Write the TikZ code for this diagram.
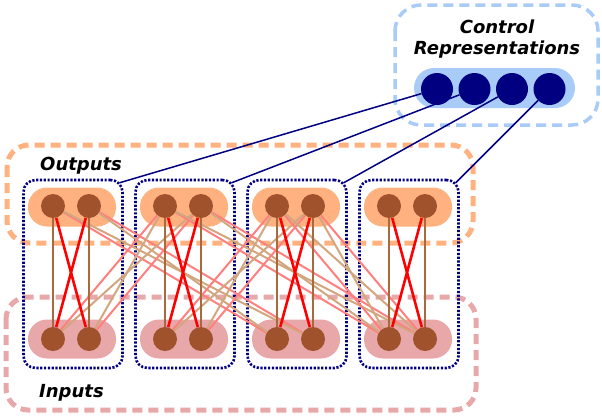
\documentclass[tikz,border=0pt]{standalone}
\usepackage{fontspec}
\newfontfamily\labelfont{DejaVu Sans}
\definecolor{CNavy}{HTML}{000080}
\definecolor{CBrown}{HTML}{A0522D}
\definecolor{CStem}{HTML}{A8693C}
\definecolor{CRed}{HTML}{FF0000}
\definecolor{CPink}{HTML}{FF7F7F}
\definecolor{CTan}{HTML}{D2A67E}
\definecolor{COrange}{HTML}{FFB27F}
\definecolor{CRose}{HTML}{E8A8AA}
\definecolor{CSky}{HTML}{A8CBF8}

\begin{document}
\begin{tikzpicture}[x=1pt, y=-1pt,
  unit/.style={circle, fill=CBrown, minimum size=24pt, inner sep=0pt},
  ctrl/.style={circle, fill=CNavy, minimum size=32pt, inner sep=0pt},
  pill/.style={rounded corners=19pt, minimum width=88pt, minimum height=39pt, inner sep=0pt},
  group/.style={draw=CNavy, line width=2.6pt, dash pattern=on 2.2pt off 1.6pt,
                rounded corners=12pt, minimum width=99pt, minimum height=188pt, inner sep=0pt},
  region/.style={line width=5pt, dash pattern=on 10pt off 6pt, rounded corners=22pt},
  title/.style={font=\labelfont\bfseries\itshape\fontsize{18}{22}\selectfont, inner sep=0pt},
  stem/.style={CStem, line width=2.6pt},
  cross/.style={CRed, line width=2.6pt},
  pinklink/.style={CPink, line width=2pt},
  tanlink/.style={CTan, line width=2pt},
  wire/.style={CNavy, line width=1.5pt}]
  \useasboundingbox (0,0) rectangle (602,418);

  % dashed regions
  \draw[region, COrange] (7,145) rectangle (473,243);
  \draw[region, CRose] (6,297) rectangle (476,410);
  \draw[region, CSky, line width=3.5pt, rounded corners=26pt] (395,5) rectangle (598,125);

  % groups of units
  \foreach \g/\x in {1/71, 2/183, 3/295, 4/407} {
     \node[pill, fill=COrange] (op\g) at (\x+1, 207) {};
     \node[pill, fill=CRose] (ip\g) at (\x+1, 339) {};
     \node[group] (g\g) at (\x+2, 274) {};
     \node[unit] (o\g-a) at (\x-18, 206) {};
     \node[unit] (o\g-b) at (\x+18, 206) {};
     \node[unit] (i\g-a) at (\x-18, 339) {};
     \node[unit] (i\g-b) at (\x+18, 339) {};
  }

  % links between groups
  \foreach \s/\t in {1/3, 2/1, 2/4, 3/2, 3/4} {
     \draw[pinklink] (o\s-a) -- (i\t-a);
     \draw[pinklink] (o\s-b) -- (i\t-b);
     \draw[tanlink] (o\s-a) -- (i\t-b);
     \draw[tanlink] (o\s-b) -- (i\t-a);
  }
  % links inside a group
  \foreach \g in {1,...,4} {
     \draw[stem] (o\g-a) -- (i\g-a);
     \draw[stem] (o\g-b) -- (i\g-b);
     \draw[cross] (o\g-a) -- (i\g-b);
     \draw[cross] (o\g-b) -- (i\g-a);
  }

  % control representations
  \node[pill, fill=CSky, minimum width=161pt, minimum height=40pt, rounded corners=20pt] (cp) at (494.5, 88) {};
  \foreach \k/\x in {1/437, 2/474.5, 3/512, 4/549.5} {
     \node[ctrl] (c\k) at (\x, 89) {};
     \draw[wire] (c\k) -- ([xshift=-4pt, yshift=-4pt]g\k.north east);
  }

  \node[title, anchor=base] (ctitle) at (497, 33) {Control};
  \node[title, anchor=base] (rtitle) at (497, 54) {Representations};
  \node[title, anchor=base west] (otitle) at (40, 170) {Outputs};
  \node[title, anchor=base west] (ititle) at (39, 397) {Inputs};
\end{tikzpicture}
\end{document}
